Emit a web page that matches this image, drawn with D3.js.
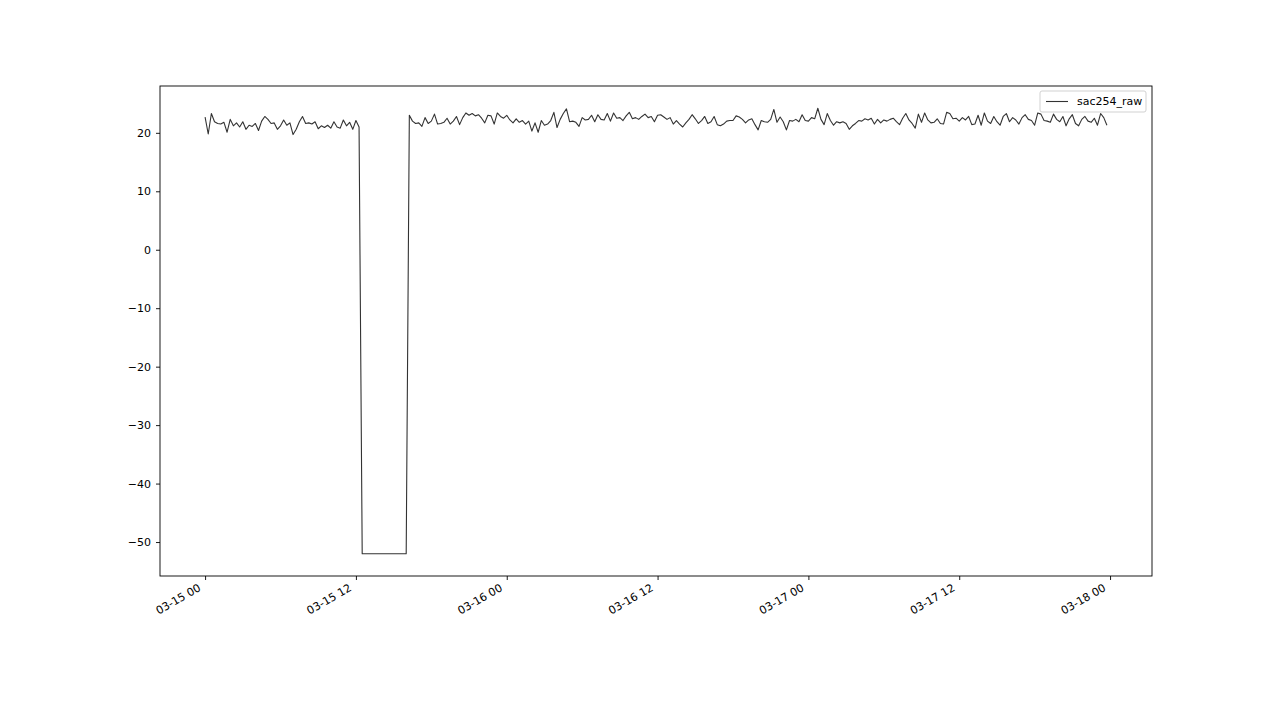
<!DOCTYPE html>
<html>
<head>
<meta charset="utf-8">
<title>sac254_raw</title>
<script src="https://cdn.jsdelivr.net/npm/d3@7"></script>
<style>
  body { margin: 0; background: #fff; }
  svg { display: block; font-family: "DejaVu Sans", sans-serif; }
</style>
</head>
<body>
<div id="chart"></div>
<script>
// series: one reading every 15 minutes, starting 03-15 00:00
var seriesName = "sac254_raw";
var startTime = "2021-03-15T00:00:00";
var stepMinutes = 15;

// 03-15 00:00 .. 12:15
var part1 = [22.7, 19.8, 23.3, 21.9, 21.6, 21.5, 21.8, 20.1, 22.3, 21.2,
             21.7, 21.0, 21.9, 20.6, 21.3, 21.1, 21.6, 20.4, 22.0, 22.8,
             22.3, 21.6, 21.7, 20.6, 21.2, 22.2, 21.3, 21.7, 19.7, 20.6,
             21.9, 22.8, 21.6, 21.7, 21.5, 21.9, 20.7, 21.2, 20.9, 21.3,
             20.8, 21.9, 21.0, 20.8, 22.2, 21.2, 21.8, 20.6, 22.1, 21.0];
// 12:30 .. 16:00 sensor dropout
var dropout = [-52, -52, -52, -52, -52, -52, -52, -52,
               -52, -52, -52, -52, -52, -52, -52];
// 16:15 .. 03-17 23:45
var part2 = [23.0, 22.0, 21.6, 21.7, 21.1, 22.6, 21.6, 22.0, 23.2, 21.5,
             21.6, 21.8, 22.5, 21.5, 22.0, 22.8, 21.4, 22.6, 23.4, 23.0,
             23.3, 22.9, 23.1, 22.5, 21.7, 23.0, 22.9, 21.5, 23.4, 22.8,
             22.5, 23.0, 22.2, 21.7, 22.4, 21.8, 22.1, 21.5, 22.0, 20.3,
             21.7, 20.1, 22.1, 21.3, 21.5, 22.1, 23.5, 20.9, 22.3, 23.3,
             24.1, 21.9, 22.0, 21.8, 21.1, 22.6, 22.2, 22.3, 23.0, 21.9,
             23.1, 22.3, 22.2, 23.3, 22.0, 23.4, 22.5, 22.6, 22.1, 22.9,
             23.5, 22.4, 22.6, 22.3, 22.8, 23.2, 22.6, 22.8, 21.9, 23.0,
             23.1, 22.7, 22.3, 22.6, 21.5, 22.1, 21.5, 21.0, 21.7, 22.3,
             23.1, 22.4, 21.6, 22.1, 22.8, 21.6, 21.9, 22.8, 21.4, 21.2,
             21.5, 22.0, 22.1, 22.1, 22.9, 22.7, 22.3, 21.7, 22.2, 22.4,
             21.4, 20.5, 22.1, 21.9, 21.8, 22.3, 24.0, 21.8, 22.7, 21.9,
             20.5, 22.1, 22.0, 22.3, 21.9, 23.1, 22.1, 22.0, 22.6, 22.4,
             24.2, 22.3, 21.4, 23.3, 22.1, 21.3, 21.9, 21.7, 21.9, 21.6,
             20.6, 21.2, 21.6, 22.1, 22.0, 22.4, 22.2, 22.5, 21.5, 22.3,
             21.7, 22.2, 22.0, 22.3, 22.5, 21.9, 21.4, 22.5, 23.3, 22.2,
             21.6, 20.8, 23.2, 21.8, 23.4, 22.2, 21.7, 21.8, 22.4, 21.6,
             21.5, 23.5, 23.3, 22.4, 22.5, 22.0, 22.6, 22.2, 22.8, 21.4,
             21.5, 23.0, 21.3, 23.4, 22.0, 21.6, 22.8, 21.9, 21.3, 22.8,
             23.3, 21.9, 22.6, 22.2, 21.5, 22.6, 23.1, 22.3, 22.1, 21.3,
             23.4, 23.2, 22.1, 22.0, 21.8, 23.2, 22.3, 21.9, 22.8, 21.2,
             22.4, 23.1, 21.6, 21.2, 22.3, 22.8, 22.0, 21.8, 22.5, 21.3,
             23.3, 22.6, 21.3];

var yTicks = [20, 10, 0, -10, -20, -30, -40, -50];

var values = part1.concat(dropout, part2);
var t0 = new Date(startTime);
var data = values.map(function(v, i) {
  return { t: new Date(t0.getTime() + i * stepMinutes * 60000), v: v };
});

var W = 1280, H = 720;
var mLeft = 160, mRight = 1152, mTop = 86, mBottom = 576;

var svg = d3.select("#chart").append("svg")
  .attr("width", W).attr("height", H);

// matplotlib style 5% padding on both axes
var tExt = d3.extent(data, function(d) { return d.t; });
var tPad = (tExt[1] - tExt[0]) * 0.05;
var x = d3.scaleTime()
  .domain([new Date(tExt[0].getTime() - tPad), new Date(tExt[1].getTime() + tPad)])
  .range([mLeft, mRight]);

var vExt = d3.extent(values);
var vPad = (vExt[1] - vExt[0]) * 0.05;
var y = d3.scaleLinear()
  .domain([vExt[0] - vPad, vExt[1] + vPad])
  .range([mBottom, mTop]);

// x axis: every 12 hours
var xTicks = d3.timeHour.every(12).range(tExt[0], new Date(tExt[1].getTime() + 3600000));
var fmt = d3.timeFormat("%m-%d %H");
var xAxis = svg.append("g")
  .attr("transform", "translate(0," + mBottom + ")")
  .call(d3.axisBottom(x).tickValues(xTicks).tickFormat(fmt).tickSize(4));
xAxis.select(".domain").remove();
xAxis.selectAll("line").attr("stroke", "#000").attr("stroke-width", 0.9);
xAxis.selectAll("text")
  .attr("font-family", "DejaVu Sans")
  .attr("font-size", "11px")
  .attr("fill", "#000")
  .attr("text-anchor", "end")
  .attr("y", 0).attr("dy", 0)
  .attr("transform", "translate(-4,14) rotate(-30)");

// y axis
var yAxis = svg.append("g")
  .attr("transform", "translate(" + mLeft + ",0)")
  .call(d3.axisLeft(y).tickValues(yTicks)
    .tickFormat(function(d) { return String(d).replace("-", "\u2212"); })
    .tickSize(4).tickPadding(5));
yAxis.select(".domain").remove();
yAxis.selectAll("line").attr("stroke", "#000").attr("stroke-width", 0.9);
yAxis.selectAll("text")
  .attr("font-family", "DejaVu Sans")
  .attr("font-size", "11px").attr("fill", "#000");

// series line
var line = d3.line()
  .x(function(d) { return x(d.t); })
  .y(function(d) { return y(d.v); });

svg.append("path")
  .datum(data)
  .attr("d", line)
  .attr("fill", "none")
  .attr("stroke", "#333")
  .attr("stroke-width", 1.1)
  .attr("stroke-linejoin", "round");

// frame
svg.append("rect")
  .attr("x", mLeft).attr("y", mTop)
  .attr("width", mRight - mLeft).attr("height", mBottom - mTop)
  .attr("fill", "none").attr("stroke", "#000").attr("stroke-width", 0.9);

// legend
var lg = svg.append("g").attr("transform", "translate(1040,91)");
lg.append("rect")
  .attr("width", 106).attr("height", 21).attr("rx", 2)
  .attr("fill", "#fff").attr("fill-opacity", 0.8)
  .attr("stroke", "#ccc").attr("stroke-width", 0.9);
lg.append("line")
  .attr("x1", 6).attr("x2", 28).attr("y1", 10.5).attr("y2", 10.5)
  .attr("stroke", "#333").attr("stroke-width", 1.1);
lg.append("text")
  .attr("x", 37).attr("y", 10.5).attr("dy", "0.35em")
  .attr("font-family", "DejaVu Sans")
  .attr("font-size", "11px").attr("fill", "#000")
  .text(seriesName);
</script>
</body>
</html>
